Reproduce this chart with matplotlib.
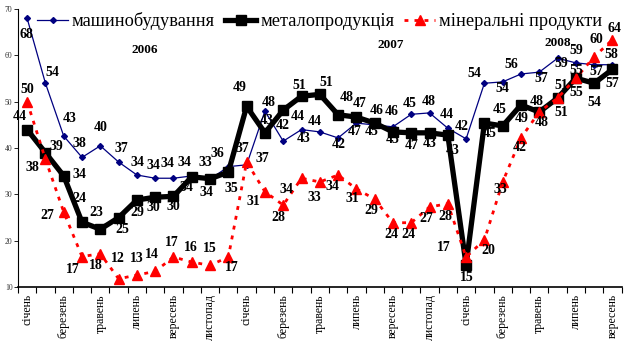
import matplotlib
matplotlib.use('Agg')
import matplotlib.pyplot as plt
import numpy as np

# months Jan 2006 .. Sep 2008
month_names = ['січень', 'березень', 'травень', 'липень', 'вересень', 'листопад']
n_months = 33

machine = [68, 54, 42.6, 38, 40.5, 37, 34.2, 33.5, 33.5, 34, 33.3, 36,
           36.4, 48, 41.5, 44, 43.5, 42.2, 45.4, 45, 44.6, 47.3, 47.6, 44.3,
           42, 54, 54.3, 56, 56.4, 59.4, 58.4, 58, 58]
machine_lbl = ['68', '54', '43', '38', '40', '37', '34', '34', '34', '34', '33', '36',
               '37', '48', '42', '44', '44', '42', '47', '45', '46', '45', '48', '44',
               '42', '54', '54', '56', '57', '59', '59', '57', '58']

metal = [44, 39, 34, 24, 22.5, 25, 28.8, 29.4, 29.6, 33.8, 33.4, 34.8,
         49, 43.3, 48.2, 51.2, 51.6, 47.2, 46.7, 45.4, 43.5, 43.3, 43.3, 42.8,
         14.8, 45.4, 44.8, 49.3, 47.8, 50.8, 55.1, 54, 57]
metal_lbl = ['44', '39', '34', '24', '23', '25', '29', '30', '30', '34', '34', '35',
             '49', '43', '', '51', '51', '48', '47', '46', '43', '47', '43', '43',
             '15', '45', '45', '49', '48', '51', '55', '54', '57']

mineral = [50, 37.6, 26.2, 16.6, 17.2, 11.8, 12.6, 13.4, 16.5, 15.4, 14.7, 16.5,
           37, 30.6, 27.7, 33.5, 32.7, 34.2, 31.2, 29, 23.9, 23.9, 27.3, 28,
           16.5, 20.2, 32.7, 42.2, 47.8, 50.8, 55.1, 59.7, 63.4]
mineral_lbl = ['50', '38', '27', '17', '18', '12', '13', '14', '17', '16', '15', '17',
               '37', '31', '28', '34', '33', '34', '31', '29', '24', '24', '27', '28',
               '17', '20', '33', '42', '48', '51', '55', '60', '64']

years = ['2006', '2007', '2008']

# label offsets in pixels (dx right, dy down)
machine_off = [(-1, 16), (7, -11), (6, -18), (-3, -14), (0, -18), (3, -14), (1, -12), (-2, -13),
               (-6, -15), (-7, -13), (-5, -17), (-11, -13), (-4, -16), (4, -9), (0, -16), (-4, -13),
               (-5, -10), (1, 7), (-2, 8), (-3, 7), (-1, -15), (-2, -11), (-1, -11), (-1, -14),
               (-4, -12), (-10, -10), (0, 7), (-10, -9), (2, 6), (4, 5), (0, -12), (2, 7), (-1, -10)]
metal_off = [(-7, -13), (11, -6), (16, -1), (-3, -24), (-4, -17), (4, 12), (0, 12), (-2, 10),
             (0, 10), (-5, 11), (-4, 14), (3, 16), (-7, -19), (2, -12), (0, 0), (-2, -11),
             (7, -12), (9, -17), (3, -14), (2, -13), (0, 8), (0, 13), (0, 11), (5, 15),
             (1, 13), (5, 10), (-3, -16), (1, 13), (-3, -10), (4, -13), (0, -8), (0, 19), (0, 14)]
mineral_off = [(0, -12), (-13, 8), (-16, 3), (-9, 13), (-4, 12), (-1, -20), (0, -17), (-3, -17),
               (-2, -15), (-1, -15), (0, -17), (3, 10), (16, -4), (-12, 10), (-5, 12), (-15, 11),
               (-5, 16), (-6, 12), (-4, 10), (-3, 11), (-2, 12), (-3, 12), (-3, 12), (-2, 13),
               (-22, -10), (4, 11), (-2, 8), (-1, 10), (2, 11), (4, 14), (0, 14), (2, -17), (2, -11)]

serif = 'Liberation Serif'
x = np.arange(n_months)

fig = plt.figure(figsize=(6.32, 3.51), dpi=100)
ax = fig.add_axes([0.0285, 0.182, 0.955, 0.792])

l1, = ax.plot(x, machine, color='#000080', lw=0.9, marker='D', ms=3, zorder=2,
              label='машинобудування')
l2, = ax.plot(x, metal, color='black', lw=3.8, marker='s', ms=6.5, zorder=3,
              label='металопродукція')
l3, = ax.plot(x, mineral, color='red', lw=2, ls=(0, (1.4, 2.2)), marker='^', ms=7,
              mec='red', mfc='red', zorder=4, label='мінеральні продукти')

def put_labels(vals, lbls, offs):
    for i in range(len(vals)):
        if lbls[i]:
            ax.annotate(lbls[i], (x[i], vals[i]), xytext=(offs[i][0], -offs[i][1]),
                        textcoords='offset pixels', ha='center', va='center',
                        fontsize=10, fontweight='bold', family=serif, zorder=5)

put_labels(machine, machine_lbl, machine_off)
put_labels(metal, metal_lbl, metal_off)
put_labels(mineral, mineral_lbl, mineral_off)
# extra label visible near April 2007
ax.annotate('43', (x[15], machine[15]), xytext=(2, -9), textcoords='offset pixels',
            ha='center', va='center', fontsize=10, fontweight='bold', family=serif, zorder=5)

for yr, xp, yp in zip(years, [6.42, 19.9, 28.99], [61.2, 62.2, 62.7]):
    ax.text(xp, yp, yr, ha='center', va='center', fontsize=9.5, fontweight='bold', family=serif)

ax.set_xlim(-0.5, n_months - 0.5)
ax.set_ylim(10, 70)
ax.set_yticks(range(10, 71, 10))
ax.tick_params(axis='y', labelsize=5.5, length=3, width=0.6, pad=1, labelcolor='#333333')
for t in ax.get_yticklabels():
    t.set_family(serif)

ax.set_xticks(x[::2])
ax.set_xticklabels([month_names[i % 6] for i in range(len(x[::2]))], rotation=90,
                   family=serif, fontsize=8.5)
ax.set_xticks(np.arange(-0.5, n_months, 1), minor=True)
ax.tick_params(axis='x', which='major', length=0, pad=5)
ax.tick_params(axis='x', which='minor', length=4, width=0.8)

for s in ['top', 'right']:
    ax.spines[s].set_visible(False)
ax.spines['left'].set_linewidth(0.8)
ax.spines['bottom'].set_linewidth(1.2)

fig.legend(handles=[l1, l2, l3], loc='upper left', bbox_to_anchor=(0.04, 1.0),
           ncol=3, frameon=False, prop={'family': serif, 'size': 13.2},
           handlelength=1.7, handletextpad=0.2, columnspacing=0.55, borderpad=0.15)

fig.savefig('out.png', dpi=100)
